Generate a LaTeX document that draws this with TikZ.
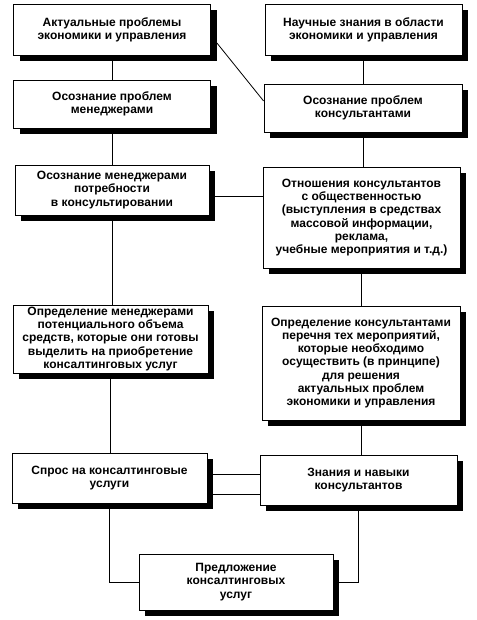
\documentclass[tikz,border=0pt]{standalone}
\usepackage{fontspec}
\setmainfont{Liberation Sans}

\begin{document}
\begin{tikzpicture}[x=1pt,y=-1pt,line width=0.8pt,
  box/.style={draw, fill=white, align=center, inner sep=2pt,
    font=\fontsize{12}{13.3}\selectfont\bfseries,
    preaction={draw=none, fill=black, transform canvas={shift={(6pt,-6pt)}}}},
  wide/.style={box, minimum width=197pt}]
\useasboundingbox (0,0) rectangle (476,620);
% left column
\node[wide, minimum height=51pt] (probl) at (112,29.5) {Актуальные проблемы\\экономики и управления};
\node[wide, minimum height=48pt] (osmen) at (112,104) {Осознание проблем\\менеджерами};
\node[wide, minimum width=194pt, minimum height=50pt] (potr) at (112,190) {Осознание менеджерами\\потребности\\в консультировании};
\node[wide, minimum width=195pt, minimum height=68pt] (sredst) at (110.5,339) {Определение менеджерами\\потенциального объема\\средств, которые они готовы\\выделить на приобретение\\консалтинговых услуг};
\node[wide, minimum width=195pt, minimum height=50pt] (spros) at (109.5,478) {Спрос на консалтинговые\\услуги};
% right column
\node[wide, minimum height=51pt] (znan) at (363.5,29.5) {Научные знания в области\\экономики и управления};
\node[wide, minimum width=198pt, minimum height=48pt] (oskons) at (363,108) {Осознание проблем\\консультантами};
\node[wide, minimum height=101pt] (pr) at (361.5,217.5) {Отношения консультантов\\с общественностью\\(выступления в средствах\\массовой информации,\\реклама,\\учебные мероприятия и т.д.)};
\node[wide, minimum width=198pt, minimum height=114pt] (meropr) at (361,363) {Определение консультантами\\перечня тех мероприятий,\\которые необходимо\\осуществить (в принципе)\\для решения\\актуальных проблем\\экономики и управления};
\node[wide, minimum height=50pt] (navyki) at (358.5,480) {Знания и навыки\\консультантов};
% bottom
\node[wide, minimum width=194pt, minimum height=56pt] (predl) at (236,582) {Предложение\\консалтинговых\\услуг};

% connectors
\draw (probl.south) -- (probl.south |- osmen.north);
\draw (osmen.south) -- (osmen.south |- potr.north);
\draw (potr.south) -- (potr.south |- sredst.north);
\draw (sredst.south) -- (sredst.south |- spros.north);
\draw (znan.south) -- (znan.south |- oskons.north);
\draw (oskons.south) -- (oskons.south |- pr.north);
\draw (pr.south) -- (pr.south |- meropr.north);
\draw (meropr.south) -- (meropr.south |- navyki.north);
\draw ([xshift=6pt,yshift=-13.5pt]probl.east) -- ([yshift=7pt]oskons.west);
\draw ([yshift=-6pt]potr.east) -- ([yshift=-6pt]potr.east -| pr.west);
\draw ([yshift=4pt]spros.east) -- ([yshift=4pt]spros.east -| navyki.west);
\draw ([yshift=-16pt]spros.east) -- ([yshift=-16pt]spros.east -| navyki.west);
\draw (spros.south) |- (predl.west);
\draw (navyki.south) |- (predl.east);
\end{tikzpicture}
\end{document}
